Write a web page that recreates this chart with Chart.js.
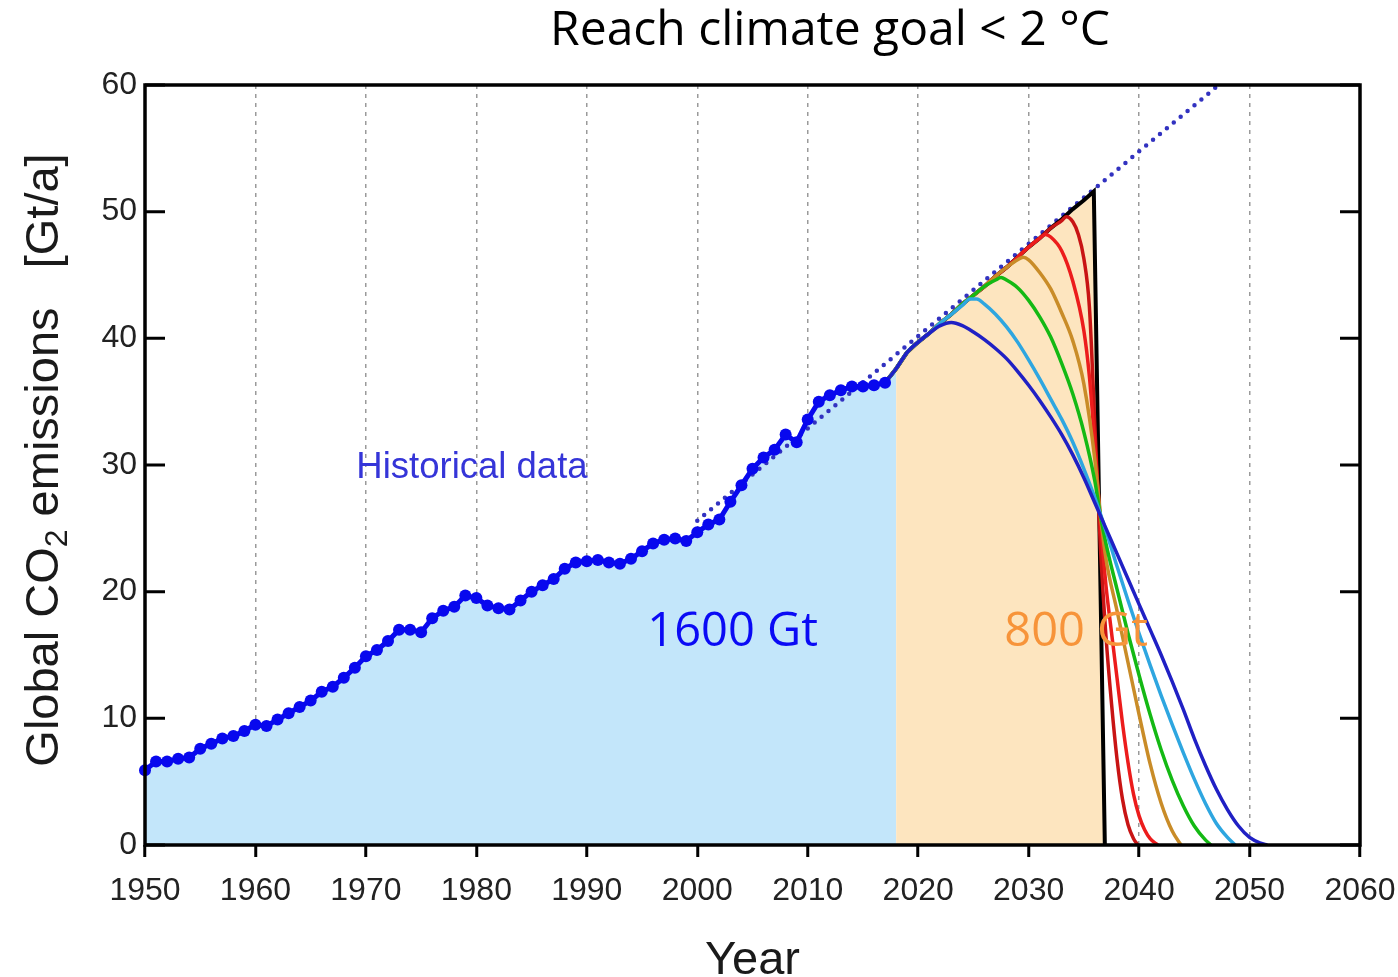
<!DOCTYPE html>
<html>
<head>
<meta charset="utf-8">
<script src="https://cdn.jsdelivr.net/npm/chart.js@4"></script>
<style>
  html, body { margin: 0; padding: 0; background: #fff; }
  #wrap { width: 1398px; height: 977px; }
</style>
</head>
<body>
<div id="wrap"><canvas id="chart" width="1398" height="977"></canvas></div>
<script>
// Historical emissions, Gt CO2 per year
const histYears = [
  1950, 1951, 1952, 1953, 1954, 1955, 1956, 1957, 1958, 1959,
  1960, 1961, 1962, 1963, 1964, 1965, 1966, 1967, 1968, 1969,
  1970, 1971, 1972, 1973, 1974, 1975, 1976, 1977, 1978, 1979,
  1980, 1981, 1982, 1983, 1984, 1985, 1986, 1987, 1988, 1989,
  1990, 1991, 1992, 1993, 1994, 1995, 1996, 1997, 1998, 1999,
  2000, 2001, 2002, 2003, 2004, 2005, 2006, 2007, 2008, 2009,
  2010, 2011, 2012, 2013, 2014, 2015, 2016, 2017
];
const histValues = [
  5.9, 6.6, 6.6, 6.8, 6.9, 7.6, 8.0, 8.4, 8.6, 9.0,
  9.5, 9.4, 9.9, 10.4, 10.9, 11.4, 12.1, 12.5, 13.2, 14.0,
  14.9, 15.4, 16.1, 17.0, 17.0, 16.8, 17.9, 18.5, 18.8, 19.7,
  19.5, 18.9, 18.7, 18.6, 19.3, 20.0, 20.5, 21.0, 21.8, 22.3,
  22.4, 22.5, 22.3, 22.2, 22.6, 23.2, 23.8, 24.1, 24.2, 24.0,
  24.7, 25.3, 25.7, 27.1, 28.4, 29.7, 30.6, 31.2, 32.4, 31.8,
  33.6, 35.0, 35.5, 35.9, 36.2, 36.2, 36.3, 36.5
];

// Dotted trend line
const trendYears = [2000, 2047.2];
const trendValues = [25.6, 60];

// Scenario paths (budget 800 Gt), earliest peak first
const darkBlueYears = [2017, 2018, 2019, 2020, 2021, 2022, 2023, 2024, 2025, 2026, 2027, 2028, 2029, 2030, 2031, 2032, 2033, 2034, 2035, 2036, 2037, 2038, 2039, 2040, 2041, 2042, 2043, 2044, 2045, 2046, 2047, 2048, 2049, 2050, 2051, 2051.6];
const darkBlueValues = [36.5, 37.6, 38.9, 39.7, 40.4, 41.0, 41.25, 41.0, 40.5, 39.9, 39.2, 38.4, 37.4, 36.3, 35.1, 33.8, 32.4, 30.8, 29.0, 27.0, 25.0, 23.0, 21.0, 19.0, 17.0, 15.0, 12.9, 10.7, 8.4, 6.3, 4.4, 2.8, 1.5, 0.6, 0.15, 0];

const lightBlueYears = [2017, 2018, 2019, 2020, 2021, 2022, 2023, 2024, 2024.7, 2025.3, 2026, 2027, 2028, 2029, 2030, 2031, 2032, 2033, 2034, 2035, 2036, 2037, 2038, 2039, 2040, 2041, 2042, 2043, 2044, 2045, 2046, 2047, 2048, 2048.7];
const lightBlueValues = [36.5, 37.6, 38.9, 39.7, 40.4, 41.2, 41.9, 42.6, 43.1, 43.1, 42.7, 41.9, 40.9, 39.7, 38.3, 36.8, 35.2, 33.6, 31.8, 29.7, 27.4, 24.8, 22.0, 19.3, 16.7, 14.2, 11.8, 9.5, 7.3, 5.2, 3.3, 1.7, 0.6, 0];

const greenYears = [2017, 2018, 2019, 2020, 2021, 2022, 2023, 2024, 2025, 2026, 2027, 2027.5, 2028, 2029, 2030, 2031, 2032, 2033, 2034, 2035, 2036, 2036.5, 2037, 2038, 2039, 2040, 2041, 2042, 2043, 2044, 2045, 2046, 2046.5];
const greenValues = [36.5, 37.6, 38.9, 39.7, 40.4, 41.2, 41.9, 42.7, 43.4, 44.1, 44.6, 44.8, 44.6, 44.0, 43.0, 41.7, 40.1, 38.0, 35.6, 32.6, 28.7, 26.0, 23.8, 20.2, 16.7, 13.4, 10.3, 7.5, 5.1, 3.1, 1.5, 0.4, 0];

const orangeYears = [2017, 2018, 2019, 2020, 2021, 2022, 2023, 2024, 2025, 2026, 2027, 2028, 2029, 2029.5, 2030, 2031, 2032, 2033, 2034, 2035, 2036, 2036.5, 2037, 2038, 2039, 2040, 2041, 2042, 2043, 2043.8];
const orangeValues = [36.5, 37.6, 38.9, 39.7, 40.4, 41.2, 41.9, 42.7, 43.4, 44.1, 44.9, 45.6, 46.2, 46.4, 46.2, 45.2, 43.9, 42.0, 39.8, 36.4, 30.4, 26.0, 22.6, 18.5, 14.4, 10.3, 6.4, 3.3, 1.1, 0];

const redYears = [2017, 2018, 2019, 2020, 2021, 2022, 2023, 2024, 2025, 2026, 2027, 2028, 2029, 2030, 2031, 2031.5, 2032, 2033, 2034, 2035, 2035.5, 2036, 2036.5, 2037, 2037.5, 2038, 2038.5, 2039, 2039.5, 2040, 2040.5, 2041, 2041.7];
const redValues = [36.5, 37.6, 38.9, 39.7, 40.4, 41.2, 41.9, 42.7, 43.4, 44.1, 44.9, 45.6, 46.4, 47.2, 47.9, 48.2, 48.0, 46.9, 44.5, 40.6, 37.0, 31.5, 25.5, 20.5, 16.8, 13.2, 9.6, 6.5, 4.0, 2.3, 1.2, 0.5, 0];

const darkRedYears = [2017, 2018, 2019, 2020, 2021, 2022, 2023, 2024, 2025, 2026, 2027, 2028, 2029, 2030, 2031, 2032, 2033, 2033.4, 2034, 2034.5, 2035, 2035.5, 2036, 2036.5, 2037, 2037.5, 2038, 2038.5, 2039, 2039.5, 2039.9];
const darkRedValues = [36.5, 37.6, 38.9, 39.7, 40.4, 41.2, 41.9, 42.7, 43.4, 44.1, 44.9, 45.6, 46.4, 47.2, 47.9, 48.7, 49.3, 49.6, 49.2, 48.2, 46.3, 42.5, 33.0, 23.5, 16.5, 11.2, 6.8, 3.6, 1.6, 0.5, 0];

// Outer envelope: keep rising, then stop at once
const blackYears = [2017, 2018, 2019, 2020, 2021, 2022, 2023, 2024, 2025, 2026, 2027, 2028, 2029, 2030, 2031, 2032, 2033, 2034, 2035, 2035.9, 2036.9];
const blackValues = [36.5, 37.6, 38.9, 39.7, 40.4, 41.2, 41.9, 42.7, 43.4, 44.1, 44.9, 45.6, 46.4, 47.2, 47.9, 48.7, 49.4, 50.2, 50.9, 51.6, 0];

const yTickValues = [0, 10, 20, 30, 40, 50, 60];

const pts = (xs, ys) => xs.map((x, i) => ({ x, y: ys[i] }));

function curve(label, xs, ys, color, order, width = 3.5) {
  return {
    label,
    data: pts(xs, ys),
    borderColor: color,
    borderWidth: width,
    pointRadius: 0,
    fill: false,
    cubicInterpolationMode: 'monotone',
    order
  };
}

// Frame, inward ticks, titles and notes
const decorations = {
  id: 'decorations',
  afterDraw(chart, args, opts) {
    const { ctx, chartArea: area, scales: { x, y } } = chart;
    ctx.save();

    ctx.strokeStyle = '#000';
    ctx.lineWidth = 3;
    yTickValues.forEach(v => {
      const py = y.getPixelForValue(v);
      ctx.beginPath();
      ctx.moveTo(area.left, py);
      ctx.lineTo(area.left + 20, py);
      ctx.moveTo(area.right - 20, py);
      ctx.lineTo(area.right, py);
      ctx.stroke();
    });
    ctx.lineWidth = 3.5;
    ctx.strokeRect(area.left, area.top, area.width, area.height);

    ctx.textAlign = 'center';
    ctx.textBaseline = 'middle';
    opts.notes.forEach(n => {
      ctx.font = n.font;
      ctx.fillStyle = n.color;
      ctx.fillText(n.text, x.getPixelForValue(n.x), y.getPixelForValue(n.y));
    });

    // main title
    ctx.font = opts.title.font;
    ctx.fillStyle = '#000';
    ctx.fillText(opts.title.text, opts.title.x, opts.title.y);

    // x axis title
    ctx.font = opts.xTitle.font;
    ctx.fillStyle = '#1a1a1a';
    ctx.textBaseline = 'alphabetic';
    ctx.fillText(opts.xTitle.text, x.left + x.width / 2, opts.xTitle.y);

    // y axis title with subscript 2
    const yt = opts.yTitle;
    const big = `${yt.size}px ${yt.family}`;
    const small = `${Math.round(yt.size * 0.68)}px ${yt.family}`;
    ctx.translate(yt.x, yt.y);
    ctx.rotate(-Math.PI / 2);
    ctx.textAlign = 'left';
    ctx.font = big;
    const w1 = ctx.measureText(yt.parts[0]).width;
    const w3 = ctx.measureText(yt.parts[2]).width;
    ctx.font = small;
    const w2 = ctx.measureText(yt.parts[1]).width;
    let sx = -(w1 + w2 + w3) / 2;
    ctx.font = big;
    ctx.fillText(yt.parts[0], sx, 0);
    sx += w1;
    ctx.font = small;
    ctx.fillText(yt.parts[1], sx, yt.size * 0.2);
    sx += w2;
    ctx.font = big;
    ctx.fillText(yt.parts[2], sx, 0);

    ctx.restore();
  }
};

const tickFont = { family: '"Liberation Sans", Arial, sans-serif', size: 32 };

new Chart(document.getElementById('chart'), {
  type: 'line',
  data: {
    datasets: [
      {
        label: 'Historical data',
        data: pts(histYears, histValues),
        borderColor: '#0808ee',
        backgroundColor: '#0808ee',
        borderWidth: 5,
        pointRadius: 6,
        pointBorderWidth: 0,
        fill: false,
        clip: 8,
        order: 0
      },
      curve('Path 1', darkBlueYears, darkBlueValues, '#2020c4', 1),
      curve('Path 2', lightBlueYears, lightBlueValues, '#2ea6e0', 2),
      curve('Path 3', greenYears, greenValues, '#14b914', 3),
      curve('Path 4', orangeYears, orangeValues, '#c98c28', 4),
      curve('Path 5', redYears, redValues, '#ec1c1c', 5),
      curve('Path 6', darkRedYears, darkRedValues, '#c81414', 6),
      {
        label: 'Envelope',
        data: pts(blackYears, blackValues),
        borderColor: '#000',
        borderWidth: 4,
        pointRadius: 0,
        fill: false,
        tension: 0,
        order: 7
      },
      {
        label: 'Trend',
        data: pts(trendYears, trendValues),
        borderColor: '#3232c0',
        borderWidth: 4.5,
        borderDash: [0, 9],
        borderCapStyle: 'round',
        pointRadius: 0,
        fill: false,
        order: 8
      },
      {
        label: '1600 Gt',
        data: pts(histYears.concat(blackYears[1]), histValues.concat(blackValues[1])),
        borderWidth: 0,
        pointRadius: 0,
        backgroundColor: '#c3e6fa',
        fill: 'origin',
        order: 10
      },
      {
        label: '800 Gt',
        data: pts(blackYears.slice(1), blackValues.slice(1)),
        borderWidth: 0,
        pointRadius: 0,
        backgroundColor: '#fde5bf',
        fill: 'origin',
        tension: 0,
        order: 10
      }
    ]
  },
  options: {
    responsive: false,
    animation: false,
    layout: { padding: { top: 85, right: 38, bottom: 0, left: 0 } },
    plugins: {
      legend: { display: false },
      tooltip: { enabled: false },
      decorations: {
        title: { text: 'Reach climate goal < 2 °C', font: '48px "Open Sans"', x: 830, y: 31 },
        xTitle: { text: 'Year', font: '47px "Liberation Sans", Arial', y: 974 },
        yTitle: { parts: ['Global CO', '2', ' emissions   [Gt/a]'], size: 47, family: '"Liberation Sans", Arial', x: 58, y: 460 },
        notes: [
          { text: 'Historical data', x: 1979.6, y: 29.8, font: '36.5px "Liberation Sans", Arial', color: '#3535d8' },
          { text: '1600 Gt', x: 2003.2, y: 16.8, font: '47px "Open Sans"', color: '#0a0af5' },
          { text: '800 Gt', x: 2034.3, y: 16.8, font: '47px "Open Sans"', color: '#f7943a' }
        ]
      }
    },
    scales: {
      x: {
        type: 'linear',
        min: 1950,
        max: 2060,
        z: 1,
        afterFit: s => { s.height = 132; s.paddingLeft = 0; s.paddingRight = 0; },
        ticks: {
          stepSize: 10,
          color: '#222',
          font: tickFont,
          padding: 15,
          maxRotation: 0,
          callback: v => String(v)
        },
        grid: { color: '#9a9a9a', lineWidth: 1.5, tickLength: 12, tickColor: '#000', tickWidth: 3 },
        border: { display: false, dash: [4, 5] }
      },
      y: {
        min: 0,
        max: 60,
        afterFit: s => { s.width = 145; s.paddingTop = 0; s.paddingBottom = 0; },
        ticks: { stepSize: 10, color: '#222', font: tickFont, padding: 8 },
        grid: { display: false, drawTicks: false },
        border: { display: false }
      }
    }
  },
  plugins: [decorations]
});
</script>
</body>
</html>
